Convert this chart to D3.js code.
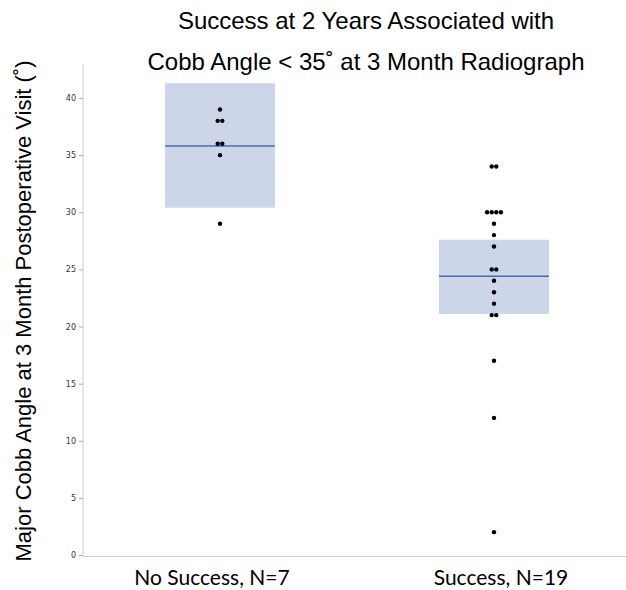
<!DOCTYPE html>
<html>
<head>
<meta charset="utf-8">
<script src="https://cdn.jsdelivr.net/npm/d3@7"></script>
<style>
  body { margin: 0; background: #fff; }
  svg { display: block; }
</style>
</head>
<body>
<svg id="chart" width="626" height="590"></svg>
<script>
// groups and values
const groups = ["No Success, N=7", "Success, N=19"]
const noSuccess = [39, 38, 38, 36, 36, 35, 29]
const success = [34, 34, 30, 30, 30, 30, 29, 28, 27, 25, 25, 24, 23, 22, 21, 21, 17, 12, 2]
const means = [35.8, 24.4]
const boxLow = [30.4, 21.1]
const boxHigh = [41.3, 27.6]
const yTicks = [0, 5, 10, 15, 20, 25, 30, 35, 40]

const svg = d3.select("#chart")

const x = d3.scalePoint()
  .domain(groups)
  .range([83, 631])
  .padding(0.5)

const y = d3.scaleLinear()
  .domain([0, 40])
  .range([555, 98])

// title
const title = svg.append("g")
  .attr("font-family", "Liberation Sans, Arial, sans-serif")
  .attr("font-size", 24)
  .attr("fill", "#000")
  .attr("text-anchor", "middle")
title.append("text").attr("x", 366).attr("y", 29).text("Success at 2 Years Associated with")
title.append("text").attr("x", 366).attr("y", 70).text("Cobb Angle < 35˚ at 3 Month Radiograph")

// y label
svg.append("text")
  .attr("transform", "translate(31,311) rotate(-90)")
  .attr("text-anchor", "middle")
  .attr("font-family", "Liberation Sans, Arial, sans-serif")
  .attr("font-size", 22)
  .text("Major  Cobb Angle at 3 Month  Postoperative Visit (˚)")

// boxes (mean + interval)
const boxW = 110
const bw = svg.append("g")
groups.forEach((g, i) => {
  bw.append("rect")
    .attr("x", x(g) - boxW / 2)
    .attr("y", y(boxHigh[i]))
    .attr("width", boxW)
    .attr("height", y(boxLow[i]) - y(boxHigh[i]))
    .attr("fill", "#cdd6e9")
  bw.append("line")
    .attr("x1", x(g) - boxW / 2)
    .attr("x2", x(g) + boxW / 2)
    .attr("y1", y(means[i]))
    .attr("y2", y(means[i]))
    .attr("stroke", "#4a68b0")
    .attr("stroke-width", 1.6)
})

// y axis
const yAxis = svg.append("g")
  .attr("transform", "translate(83,0)")
  .call(d3.axisLeft(y).tickValues(yTicks).tickSize(4).tickPadding(3))
yAxis.select(".domain").remove()
yAxis.selectAll(".tick line").attr("stroke", "#aaa")
yAxis.selectAll(".tick text")
  .attr("font-family", "DejaVu Sans, sans-serif")
  .attr("font-size", 8)
  .attr("fill", "#333")
svg.append("line")
  .attr("x1", 83).attr("x2", 83)
  .attr("y1", 64).attr("y2", 556)
  .attr("stroke", "#ccc")
svg.append("line")
  .attr("x1", 83).attr("x2", 626)
  .attr("y1", 556.5).attr("y2", 556.5)
  .attr("stroke", "#ccc")

// dots, duplicates put side by side
const dotGap = 4.6
;[noSuccess, success].forEach((vals, i) => {
  const counts = d3.rollup(vals, v => v.length, d => d)
  const seen = new Map()
  const pts = vals.map(v => {
    const n = counts.get(v)
    const k = seen.get(v) || 0
    seen.set(v, k + 1)
    return { v: v, dx: (k - (n - 1) / 2) * dotGap }
  })
  svg.append("g").selectAll("circle")
    .data(pts)
    .enter()
    .append("circle")
    .attr("cx", d => x(groups[i]) + d.dx)
    .attr("cy", d => y(d.v))
    .attr("r", 2.2)
    .attr("fill", "#000")
})

// x labels
svg.append("g").selectAll("text")
  .data(groups)
  .enter()
  .append("text")
  .attr("x", (d, i) => x(d) + (i === 0 ? -8 : 7))
  .attr("y", 585)
  .attr("text-anchor", "middle")
  .attr("font-family", "Lato, Open Sans, sans-serif")
  .attr("font-size", 21)
  .attr("fill", "#000")
  .text(d => d)
</script>
</body>
</html>
